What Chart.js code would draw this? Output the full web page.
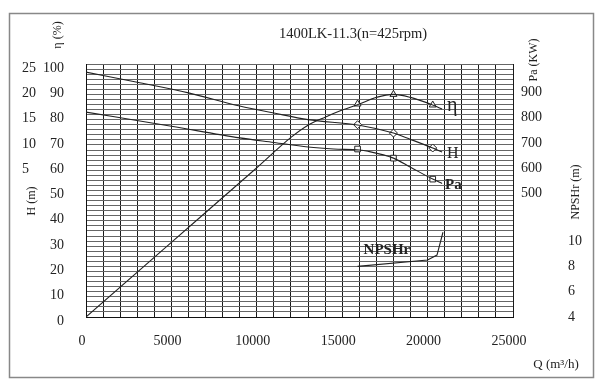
<!doctype html>
<html lang="zh">
<head>
<meta charset="utf-8">
<title>1400LK-11.3 performance curve</title>
<style>
  * { margin: 0; padding: 0; }
  body { background: #fff; }
  canvas { display: block; }
</style>
</head>
<body>
<canvas id="pumpChart" width="600" height="391"></canvas>
<script src="https://cdn.jsdelivr.net/npm/chart.js"></script>
<script>
// flow Q (m3/h) against each curve
const qEta = [0, 5000, 10000, 12000, 13000, 14000, 15000, 16000, 17000, 18000, 19000, 20300, 20850];
const eta  = [0, 29.5, 59, 71, 75.8, 79, 81.8, 84.2, 86.8, 88, 86.8, 83.8, 82.2];

const qHead = [0, 3000, 6000, 9000, 11000, 13000, 16000, 18000, 19000, 20300, 20850];
const head  = [23.4, 21.4, 19.3, 16.7, 15.3, 14.0, 12.9, 11.35, 10.1, 8.4, 7.6];

const qPower = [0, 5000, 9000, 11000, 13000, 14500, 16000, 16500, 18000, 19000, 20300, 20850];
const power  = [810, 754, 708, 690, 672, 664, 660, 655, 628, 592, 545, 528];

const qNpsh = [15900, 20000, 20550, 20900];
const npsh  = [8.0, 8.5, 8.9, 10.7];

// marked duty points
const qMark     = [15900, 18000, 20300];
const etaMark   = [84.2, 88, 83.8];
const headMark  = [13.0, 11.35, 8.4];
const powerMark = [664, 628, 545];

const ink = '#222';
const serif = '"Liberation Serif", "DejaVu Serif", serif';
const tickFont = { family: serif, size: 14 };

const pts = (xs, ys) => xs.map((v, i) => ({ x: v, y: ys[i] }));

const curve = (data, axis, extra) => Object.assign({
  data, yAxisID: axis, borderColor: ink, borderWidth: 1.1,
  pointRadius: 0, fill: false, cubicInterpolationMode: 'monotone'
}, extra || {});

const marks = (data, axis, style) => ({
  data, yAxisID: axis, showLine: false, pointStyle: style,
  pointRadius: 4, pointBorderWidth: 1, pointBorderColor: ink,
  pointBackgroundColor: '#fff'
});

// frame, title, axis names and curve names
const sheetText = {
  id: 'sheetText',
  beforeDraw(chart) {
    const c = chart.ctx;
    c.save();
    c.fillStyle = '#fff';
    c.fillRect(0, 0, chart.width, chart.height);
    c.strokeStyle = '#888';
    c.lineWidth = 1.5;
    c.strokeRect(9.5, 13.5, 584, 364);
    c.restore();
  },
  afterDraw(chart) {
    const c = chart.ctx;
    const s = chart.scales;
    c.save();
    c.fillStyle = ink;
    c.textBaseline = 'middle';
    c.textAlign = 'center';
    c.font = '14.5px ' + serif;
    c.fillText('1400LK-11.3(n=425rpm)', 353, 34);

    const vtext = (t, px, py) => {
      c.save();
      c.translate(px, py);
      c.rotate(-Math.PI / 2);
      c.font = '12px ' + serif;
      c.fillText(t, 0, 0);
      c.restore();
    };
    vtext('η (%)', 58, 35);
    vtext('H (m)', 32, 201);
    vtext('Pa (KW)', 534, 60);
    vtext('NPSHr (m)', 576, 192);

    c.font = '13px ' + serif;
    c.fillText('Q (m³/h)', 556, 365);

    // names next to curve ends
    c.textAlign = 'left';
    const endOf = (scale, xs, ys, k) => [s.x.getPixelForValue(xs[k]), scale.getPixelForValue(ys[k])];
    let p = endOf(s.y, qEta, eta, qEta.length - 1);
    c.font = '20px ' + serif;
    c.fillText('η', p[0] + 5, p[1] - 3);
    p = endOf(s.yH, qHead, head, qHead.length - 1);
    c.font = '16px ' + serif;
    c.fillText('H', p[0] + 5, p[1] + 2);
    p = endOf(s.yPa, qPower, power, qPower.length - 1);
    c.font = 'bold 15px ' + serif;
    c.fillText('Pa', p[0] + 3, p[1] + 2);
    p = endOf(s.yNpsh, qNpsh, npsh, 0);
    c.fillText('NPSHr', p[0] + 6, p[1] - 16);
    c.restore();
  }
};

new Chart(document.getElementById('pumpChart'), {
  type: 'line',
  data: {
    datasets: [
      curve(pts(qEta, eta), 'y'),
      curve(pts(qHead, head), 'yH'),
      curve(pts(qPower, power), 'yPa'),
      curve(pts(qNpsh, npsh), 'yNpsh', { cubicInterpolationMode: 'default', tension: 0 }),
      marks(pts(qMark, etaMark), 'y', 'triangle'),
      marks(pts(qMark, headMark), 'yH', 'rectRot'),
      marks(pts(qMark, powerMark), 'yPa', 'rect')
    ]
  },
  options: {
    responsive: false,
    animation: false,
    events: [],
    layout: { padding: { left: 22, right: 12, top: 64, bottom: 34 } },
    plugins: { legend: { display: false }, tooltip: { enabled: false } },
    scales: {
      x: {
        type: 'linear', position: 'bottom', min: 0, max: 25000,
        grid: { color: '#1a1a1a', drawTicks: false },
        border: { color: '#111' },
        ticks: {
          stepSize: 1000, autoSkip: false, maxRotation: 0, padding: 16, labelOffset: -4,
          color: ink, font: tickFont,
          callback: v => v % 5000 === 0 ? String(v) : ''
        },
        afterFit: sc => { sc.height = 40; }
      },
      y: {
        position: 'left', weight: 0, min: 0, max: 100,
        grid: { color: '#666', drawTicks: false },
        border: { color: '#111' },
        ticks: {
          stepSize: 2, autoSkip: false, padding: 22, labelOffset: 4,
          color: ink, font: tickFont,
          callback: v => v % 10 === 0 ? String(v) : ''
        },
        afterFit: sc => { sc.width = 46; }
      },
      yH: {
        position: 'left', weight: 1, min: -25, max: 25,
        grid: { display: false, drawTicks: false },
        border: { display: false },
        ticks: {
          stepSize: 5, autoSkip: false, crossAlign: 'far', labelOffset: 4,
          color: ink, font: tickFont,
          callback: v => v > 0 ? String(v) : ''
        },
        afterFit: sc => { sc.width = 18; }
      },
      yPa: {
        position: 'right', weight: 0, min: 0, max: 1000,
        grid: { display: false, drawTicks: false },
        border: { display: false },
        ticks: {
          stepSize: 100, autoSkip: false, padding: 8, labelOffset: 3,
          color: ink, font: tickFont,
          callback: v => (v >= 500 && v <= 900) ? String(v) : ''
        },
        afterFit: sc => { sc.width = 50; }
      },
      yNpsh: {
        position: 'right', weight: 1, min: 4, max: 24,
        grid: { display: false, drawTicks: false },
        border: { display: false },
        ticks: {
          stepSize: 2, autoSkip: false, padding: 5,
          color: ink, font: tickFont,
          callback: v => v <= 10 ? String(v) : ''
        },
        afterFit: sc => { sc.width = 25; }
      }
    }
  },
  plugins: [sheetText]
});
</script>
</body>
</html>
